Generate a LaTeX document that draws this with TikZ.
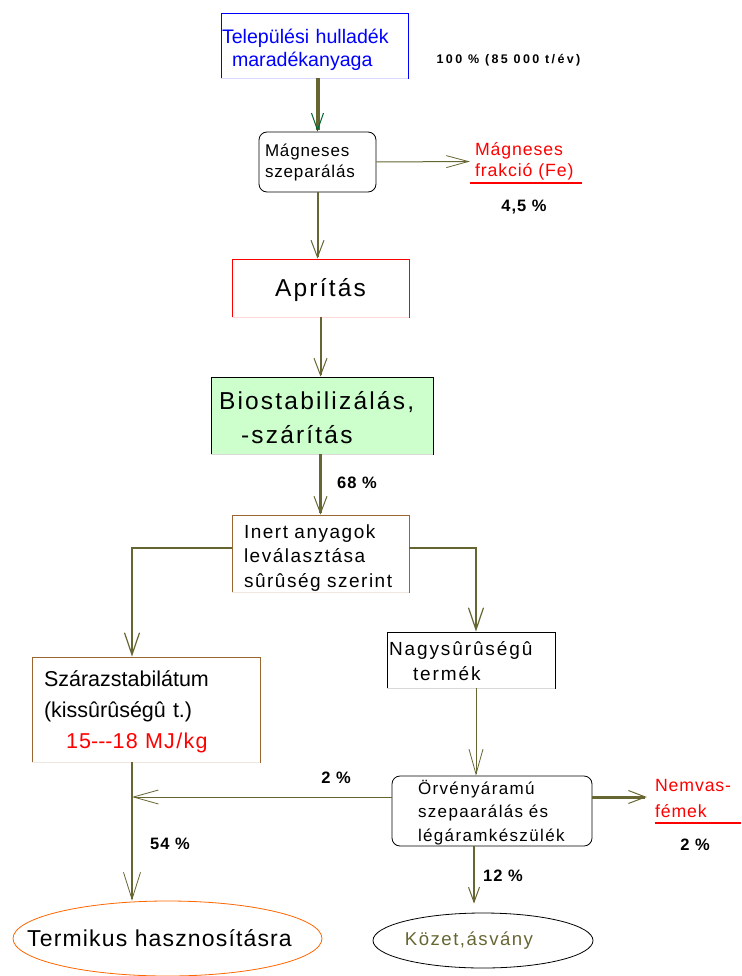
\documentclass[tikz,border=0pt]{standalone}
\usepackage{fontspec}
\setmainfont{Liberation Sans}
\usetikzlibrary{arrows.meta, shapes.geometric}

\definecolor{flowcol}{RGB}{102,102,51}
\definecolor{headgreen}{RGB}{0,102,51}
\definecolor{biofill}{RGB}{204,255,204}
\definecolor{brownedge}{RGB}{153,102,51}
\definecolor{orangeedge}{RGB}{255,102,0}

\begin{document}
\begin{tikzpicture}[x=1pt, y=-1pt,
  box/.style  ={draw, rectangle, inner ysep=0pt, align=left, line width=0.8pt},
  rbox/.style ={box, rounded corners=8pt},
  oval/.style ={draw, ellipse, inner sep=0pt, line width=0.8pt},
  side/.style ={inner ysep=0pt, align=left, text=red,
                font=\fontsize{17.7}{21}\selectfont\addfontfeatures{LetterSpace=5}},
  note/.style ={anchor=base,
                font=\fontsize{16.5}{18}\selectfont\bfseries\addfontfeatures{LetterSpace=6}},
  arr/.style  ={draw=flowcol, line width=2pt,
                -{Straight Barb[length=17pt, width=13pt, line width=1pt]}},
  slimarr/.style={draw=flowcol, line width=1pt,
                -{Straight Barb[length=25pt, width=14pt, line width=0.8pt]}},
  branch/.style={draw=flowcol, line width=2.5pt,
                -{Straight Barb[length=22pt, width=15pt, line width=1.2pt]}},
  uline/.style={red, line width=2pt},
  pale/.style ={line width=1pt},
]
\useasboundingbox (0,0) rectangle (741,976);

%% ---- Nodes ----
\node[box, draw=blue, text=blue, inner xsep=1pt, text width=185pt,
      text height=31pt, text depth=34pt, font=\fontsize{19.6}{23}\selectfont]
      (TH) at (314.5,45.5) {Települési hulladék\\\hspace*{10pt}maradékanyaga};
\node[rbox, inner xsep=6pt, text width=105pt, text height=25pt, text depth=35pt,
      font=\fontsize{17}{21}\selectfont\addfontfeatures{LetterSpace=5}]
      (MS) at (317.5,162) {Mágneses\\szeparálás};
\node[box, draw=red, align=center, inner xsep=0pt, text width=177pt,
      text height=37pt, text depth=21pt,
      font=\fontsize{24.5}{30}\selectfont\addfontfeatures{LetterSpace=9}]
      (AP) at (320.5,288) {Aprítás};
\node[box, fill=biofill, inner xsep=8pt, text width=206pt, text height=32pt, text depth=45pt,
      font=\fontsize{24.5}{34}\selectfont\addfontfeatures{LetterSpace=9}]
      (BS) at (322,415.5) {Biostabilizálás,\\\hspace*{22pt}-szárítás};
\node[box, draw=brownedge, inner xsep=12pt, text width=153pt, text height=23pt, text depth=54pt,
      font=\fontsize{19}{24.5}\selectfont\addfontfeatures{LetterSpace=8}]
      (IN) at (320.5,553.5) {Inert~anyagok\\leválasztása\\sûrûség~szerint};
\node[box, inner xsep=2pt, text width=164pt, text height=23pt, text depth=33pt,
      font=\fontsize{19}{25}\selectfont\addfontfeatures{LetterSpace=10}]
      (NA) at (471,660) {Nagysûrûségû\\\hspace*{24pt}termék};
\node[box, draw=brownedge, inner xsep=12pt, text width=204pt, text height=29pt, text depth=76pt,
      font=\fontsize{21.5}{31}\selectfont]
      (SZ) at (146,709.5) {Szárazstabilátum\\(kissûrûségû~t.)\\\hspace*{22pt}%
      \textcolor{red}{\addfontfeatures{LetterSpace=6}15\mbox{-}\mbox{-}\mbox{-}18~MJ/kg}};
\node[rbox, inner xsep=26pt, text width=148pt, text height=18pt, text depth=52pt,
      font=\fontsize{17}{23.5}\selectfont\addfontfeatures{LetterSpace=8}]
      (OR) at (492,811) {Örvényáramú\\szepaarálás~és\\légáramkészülék};
\node[oval, draw=orangeedge, minimum width=309pt, minimum height=75pt,
      font=\fontsize{23}{27}\selectfont\addfontfeatures{LetterSpace=5}]
      (TE) at (167.5,938.5) {\makebox[0pt]{Termikus hasznosításra\hspace*{16pt}}};
\node[oval, minimum width=220pt, minimum height=55pt, text=flowcol,
      font=\fontsize{18.6}{22}\selectfont\addfontfeatures{LetterSpace=8}]
      (KO) at (483,940.5) {\makebox[0pt]{Közet,ásvány\hspace*{28pt}}};

%% ---- Outputs at the side ----
\node[side, inner xsep=5pt, text width=102pt, text height=16pt, text depth=27pt]
      (MF) at (526,161.5) {Mágneses\\frakció~(Fe)};
\node[side, inner xsep=0pt, text width=86pt, text height=16pt, text depth=32pt,
      font=\fontsize{17.7}{26}\selectfont\addfontfeatures{LetterSpace=5}]
      (NV) at (698,799) {Nemvas-\\fémek};

%% ---- Shares ----
\node[note, font=\fontsize{12.5}{14}\selectfont\bfseries\addfontfeatures{LetterSpace=19}]
      (Q0) at (508.5,64) {100 \% (85 000 t/év)};
\node[note] (Q1) at (524,212) {4,5 \%};
\node[note] (Q2) at (357,488) {68 \%};
\node[note] (Q3) at (336,783) {2 \%};
\node[note] (Q4) at (170,849) {54 \%};
\node[note] (Q5) at (503,881) {12 \%};
\node[note] (Q6) at (695,850) {2 \%};

%% ---- pale lower edges and underlines ----
\foreach \n/\c in {TH/blue, AP/red, BS/black, IN/brownedge, NA/black, SZ/brownedge}
  \draw[pale, \c!15] (\n.south west) -- (\n.south east);
\draw[uline] (MF.south west) -- (MF.south east);
\draw[uline] (NV.south west) -- (NV.south east);

%% ---- spines ----
\coordinate (lx) at (132,548);
\coordinate (rx) at (476,548);
\coordinate (kx) at (474,0);
\coordinate (my) at (0,797);

%% ---- Connectors ----
\draw[arr, line width=4pt, -{Straight Barb[length=17pt, width=12pt, line width=1pt, color=headgreen]}]
      (TH.south -| MS.north) -- (MS.north);
\draw[slimarr, -{Straight Barb[length=22pt, width=12pt, line width=0.8pt]}] (MS.east) -- (MF.west);
\draw[arr] (MS.south) -- (MS.south |- AP.north);
\draw[arr] (AP.south) -- (AP.south |- BS.north);
\draw[arr, line width=2.5pt] (BS.south -| IN.north) -- (IN.north);
\draw[branch] (IN.west |- lx) -| (lx |- SZ.north);
\draw[branch] (IN.east |- rx) -| (rx |- NA.north);
\draw[slimarr] (rx |- NA.south) -- (rx |- OR.north);
\draw[slimarr, line width=1.5pt, -{Straight Barb[length=27pt, width=17pt, line width=0.8pt]}]
      (lx |- SZ.south) -- (lx |- TE.north);
\draw[slimarr] (OR.west |- my) -- (lx |- my);
\draw[arr, line width=3pt, shorten >=8pt] (OR.east |- my) -- (NV.west |- my);
\draw[arr, shorten >=9pt, -{Straight Barb[length=15pt, width=11pt, line width=1pt]}]
      (OR.south -| kx) -- (KO.north -| kx);

\end{tikzpicture}
\end{document}
